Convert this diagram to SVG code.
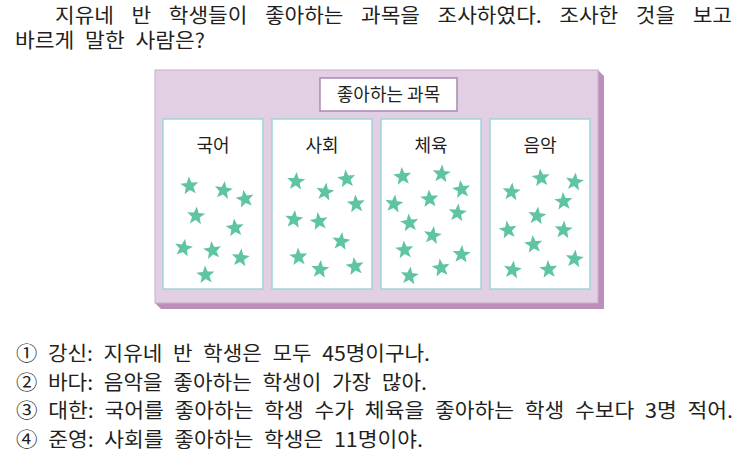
<svg xmlns="http://www.w3.org/2000/svg" xmlns:xlink="http://www.w3.org/1999/xlink" width="747" height="468" viewBox="0 0 747 468">
<style>
.t{font-family:"Noto Sans CJK KR","Noto Sans",sans-serif;fill:#231f20;}
.q{font-size:20px;}
.lbl{font-size:18px;text-anchor:middle;}
.sub{fill:#ffffff;stroke:#9dd5dc;stroke-width:1.5;}
.st{fill:#5ec4a3;}
</style>
<defs>
<path id="star" d="M0,-9.5 L2.35,-3.24 L9.04,-2.94 L3.8,1.24 L5.58,7.69 L0,4 L-5.58,7.69 L-3.8,1.24 L-9.04,-2.94 L-2.35,-3.24Z"/>
</defs>
<rect width="747" height="468" fill="#ffffff"/>

<g id="question">
<text class="t q" x="55" y="23" word-spacing="12" textLength="677" lengthAdjust="spacingAndGlyphs">지유네 반 학생들이 좋아하는 과목을 조사하였다. 조사한 것을 보고</text>
<text class="t q" x="15" y="48" word-spacing="5.5" textLength="190" lengthAdjust="spacingAndGlyphs">바르게 말한 사람은?</text>
</g>

<g id="board">
<polygon points="598,70 604,76 604,309 161,309 155,303 598,303" fill="#bb8fba"/>
<rect x="155" y="70" width="443" height="233" fill="#e2cfe3" stroke="#c9aecb" stroke-width="1"/>
</g>

<g id="title">
<rect x="320" y="78" width="137" height="33" fill="#ffffff" stroke="#a98ab3" stroke-width="1.5"/>
<text class="t lbl" x="388.5" y="101" font-size="17">좋아하는 과목</text>
</g>

<g id="korean">
<rect class="sub" x="163" y="119" width="100" height="170"/>
<text class="t lbl" x="213" y="151.5">국어</text>
<g class="st">
<use xlink:href="#star" transform="translate(189.5,186) rotate(-5)"/>
<use xlink:href="#star" transform="translate(223.5,190.5) rotate(8)"/>
<use xlink:href="#star" transform="translate(245,199) rotate(-10)"/>
<use xlink:href="#star" transform="translate(196,216) rotate(5)"/>
<use xlink:href="#star" transform="translate(235,228) rotate(-6)"/>
<use xlink:href="#star" transform="translate(183.5,248) rotate(10)"/>
<use xlink:href="#star" transform="translate(212.5,250.5) rotate(-8)"/>
<use xlink:href="#star" transform="translate(240.5,258) rotate(6)"/>
<use xlink:href="#star" transform="translate(205.5,275) rotate(-4)"/>
</g>
</g>

<g id="social">
<rect class="sub" x="272" y="119" width="100" height="170"/>
<text class="t lbl" x="322" y="151.5">사회</text>
<g class="st">
<use xlink:href="#star" transform="translate(296,181.5) rotate(4)"/>
<use xlink:href="#star" transform="translate(346.5,179) rotate(-7)"/>
<use xlink:href="#star" transform="translate(325,192) rotate(9)"/>
<use xlink:href="#star" transform="translate(356,204) rotate(-5)"/>
<use xlink:href="#star" transform="translate(294,219.5) rotate(6)"/>
<use xlink:href="#star" transform="translate(319,221.5) rotate(-9)"/>
<use xlink:href="#star" transform="translate(341,241.5) rotate(7)"/>
<use xlink:href="#star" transform="translate(298.5,257) rotate(-4)"/>
<use xlink:href="#star" transform="translate(320,269.5) rotate(5)"/>
<use xlink:href="#star" transform="translate(355,266.5) rotate(-8)"/>
</g>
</g>

<g id="pe">
<rect class="sub" x="381" y="119" width="100" height="170"/>
<text class="t lbl" x="431" y="151.5">체육</text>
<g class="st">
<use xlink:href="#star" transform="translate(402.5,176.5) rotate(-6)"/>
<use xlink:href="#star" transform="translate(441.5,174) rotate(5)"/>
<use xlink:href="#star" transform="translate(461.5,189.5) rotate(-9)"/>
<use xlink:href="#star" transform="translate(394,204) rotate(8)"/>
<use xlink:href="#star" transform="translate(429.5,199) rotate(-4)"/>
<use xlink:href="#star" transform="translate(457.5,213) rotate(6)"/>
<use xlink:href="#star" transform="translate(409.5,223) rotate(-7)"/>
<use xlink:href="#star" transform="translate(432.5,235.5) rotate(9)"/>
<use xlink:href="#star" transform="translate(404.5,250) rotate(-5)"/>
<use xlink:href="#star" transform="translate(461.5,254.5) rotate(4)"/>
<use xlink:href="#star" transform="translate(441,268) rotate(-8)"/>
<use xlink:href="#star" transform="translate(409.5,276) rotate(6)"/>
</g>
</g>

<g id="music">
<rect class="sub" x="490" y="119" width="100" height="170"/>
<text class="t lbl" x="540" y="151.5">음악</text>
<g class="st">
<use xlink:href="#star" transform="translate(511.5,192) rotate(5)"/>
<use xlink:href="#star" transform="translate(541,178) rotate(-6)"/>
<use xlink:href="#star" transform="translate(574.5,182) rotate(8)"/>
<use xlink:href="#star" transform="translate(563.5,201.5) rotate(-4)"/>
<use xlink:href="#star" transform="translate(537,216) rotate(7)"/>
<use xlink:href="#star" transform="translate(508,230) rotate(-9)"/>
<use xlink:href="#star" transform="translate(563.5,230) rotate(5)"/>
<use xlink:href="#star" transform="translate(533.5,244.5) rotate(-6)"/>
<use xlink:href="#star" transform="translate(512.5,270) rotate(8)"/>
<use xlink:href="#star" transform="translate(548.5,269.5) rotate(-5)"/>
<use xlink:href="#star" transform="translate(574.5,259) rotate(6)"/>
</g>
</g>

<g id="choices">
<text class="t q" x="16" y="361" word-spacing="5.5" textLength="414" lengthAdjust="spacingAndGlyphs">① 강신: 지유네 반 학생은 모두 45명이구나.</text>
<text class="t q" x="16" y="389.5" word-spacing="5.5" textLength="411" lengthAdjust="spacingAndGlyphs">② 바다: 음악을 좋아하는 학생이 가장 많아.</text>
<text class="t q" x="16" y="418" word-spacing="5.5" textLength="717" lengthAdjust="spacingAndGlyphs">③ 대한: 국어를 좋아하는 학생 수가 체육을 좋아하는 학생 수보다 3명 적어.</text>
<text class="t q" x="16" y="446.5" word-spacing="5.5" textLength="407" lengthAdjust="spacingAndGlyphs">④ 준영: 사회를 좋아하는 학생은 11명이야.</text>
</g>
</svg>
